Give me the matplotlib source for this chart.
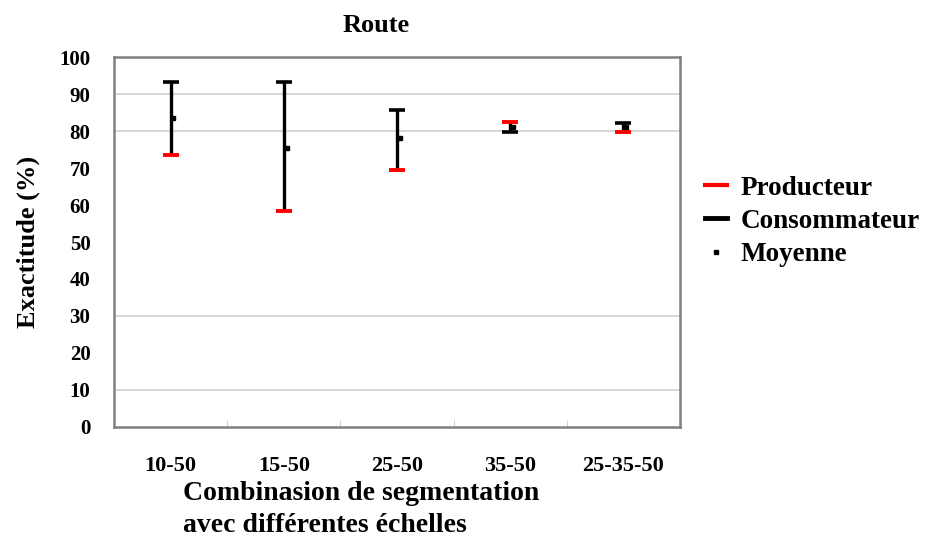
import matplotlib
matplotlib.use("Agg")
import matplotlib.pyplot as plt
from matplotlib.lines import Line2D

# values (%)
categories = ["10-50", "15-50", "25-50", "35-50", "25-35-50"]
producteur = [73.4, 58.5, 69.5, 82.4, 79.6]
consommateur = [93.2, 93.2, 85.8, 79.6, 82.2]
moyenne = [83.5, 75.3, 78.0, 81.0, 81.0]
y_ticks = [0, 10, 20, 30, 40, 50, 60, 70, 80, 90, 100]
grid_values = [10, 30, 80, 90]   # only these grid lines survive in the reference

plt.rcParams["font.family"] = ["Liberation Serif", "DejaVu Serif"]
plt.rcParams["font.weight"] = "bold"

fig = plt.figure(figsize=(9.33, 5.4), dpi=100)
ax = fig.add_axes([0.1222, 0.2093, 0.6066, 0.6851])

x = list(range(len(categories)))
for g in grid_values:
    ax.axhline(g, color="#d0d0d0", lw=1.2, zorder=0)

low = [min(p, c) for p, c in zip(producteur, consommateur)]
high = [max(p, c) for p, c in zip(producteur, consommateur)]
ax.vlines(x, low, high, color="black", lw=2.4, zorder=2)
ax.plot(x, consommateur, ls="none", marker="_", ms=11.5, mew=2.6, color="black", zorder=3)
ax.plot(x, producteur, ls="none", marker="_", ms=11.5, mew=2.8, color="red", zorder=4)
ax.plot([i + 0.025 for i in x], moyenne, ls="none", marker="s", ms=2.2, color="black", zorder=5)

ax.set_xlim(-0.5, len(categories) - 0.5)
ax.set_ylim(0, 100)
ax.set_yticks(y_ticks)
ax.set_yticklabels([str(v) for v in y_ticks], fontsize=15, fontweight="bold")
ax.set_xticks(x)
ax.set_xticklabels(categories, fontsize=16, fontweight="bold")
ax.set_xticks([i + 0.5 for i in x[:-1]], minor=True)
ax.tick_params(axis="x", which="major", length=0, pad=21)
ax.tick_params(axis="x", which="minor", direction="in", length=5, color="#c8c8c8")
ax.tick_params(axis="y", length=0, pad=17)

for s in ax.spines.values():
    s.set_color("#808080")
    s.set_linewidth(1.8)

fig.text(376 / 933, 1 - 25 / 540, "Route", fontsize=19, fontweight="bold",
         ha="center", va="center")
ax.set_ylabel("Exactitude (%)", fontsize=19, fontweight="bold", labelpad=14)
fig.text(183 / 933, 1 - 494 / 540, "Combinasion de segmentation", fontsize=20,
         fontweight="bold", va="center", ha="left")
fig.text(183 / 933, 1 - 525 / 540, "avec différentes échelles", fontsize=20,
         fontweight="bold", va="center", ha="left")

handles = [
    Line2D([], [], color="red", lw=3),
    Line2D([], [], color="black", lw=3.5),
    Line2D([], [], ls="none", marker="s", ms=3, color="black"),
]
fig.legend(handles, ["Producteur", "Consommateur", "Moyenne"],
           loc="center left", bbox_to_anchor=(0.73, 0.59), frameon=False,
           fontsize=19.5, handlelength=0.8, handletextpad=0.5, labelspacing=0.3)

fig.savefig("out.png", dpi=100)
